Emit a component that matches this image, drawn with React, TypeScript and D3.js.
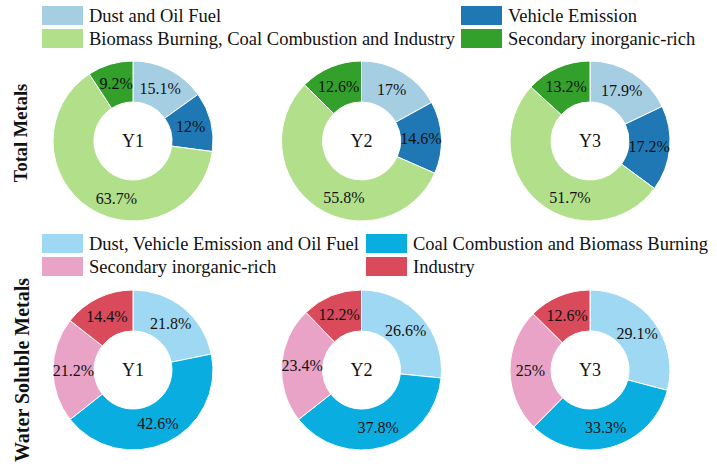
import React from "react";
import * as d3 from "d3";

const years = ["Y1", "Y2", "Y3"];

const totalSources = [
  "Dust and Oil Fuel",
  "Vehicle Emission",
  "Biomass Burning, Coal Combustion and Industry",
  "Secondary inorganic-rich",
];
const totalColors = ["#a6cee3", "#1f78b4", "#b2df8a", "#33a02c"];
const totalShares = [
  [15.1, 12, 63.7, 9.2],
  [17, 14.6, 55.8, 12.6],
  [17.9, 17.2, 51.7, 13.2],
];

const solubleSources = [
  "Dust, Vehicle Emission and Oil Fuel",
  "Coal Combustion and Biomass Burning",
  "Secondary inorganic-rich",
  "Industry",
];
const solubleColors = ["#9fd8f2", "#0aade0", "#e8a3c6", "#d94a5b"];
const solubleShares = [
  [21.8, 42.6, 21.2, 14.4],
  [26.6, 37.8, 23.4, 12.2],
  [29.1, 33.3, 25, 12.6],
];

const W = 717;
const H = 467;
const FONT = "'Liberation Serif', 'Times New Roman', serif";

const outerR = 80;
const innerR = 39;

const cx = d3.scalePoint<string>().domain(years).range([133, 590]);

const pie = d3
  .pie<number>()
  .sort(null)
  .value((d) => d);

const arc = d3.arc<d3.PieArcDatum<number>>().innerRadius(innerR).outerRadius(outerR);

// label point: centroid, but slices over half the ring pull their label toward the bottom
const labelPos = (a: d3.PieArcDatum<number>) => {
  let mid = (a.startAngle + a.endAngle) / 2;
  if (a.endAngle - a.startAngle > Math.PI) mid = (mid + Math.PI) / 2;
  const r = (innerR + outerR) / 2;
  return [Math.sin(mid) * r, -Math.cos(mid) * r];
};

const Donut = ({ values, colors, x, y, title }) => {
  const arcs = pie(values);
  return (
    <g transform={`translate(${x},${y})`}>
      {arcs.map((a, i) => (
        <path key={i} d={arc(a) || ""} fill={colors[i]} stroke="#fff" strokeWidth={1} />
      ))}
      {arcs.map((a, i) => {
        const [lx, ly] = labelPos(a);
        return (
          <text
            key={"l" + i}
            x={lx}
            y={ly}
            textAnchor="middle"
            dominantBaseline="central"
            fontSize={16}
            fill="#111"
          >
            {`${a.data}%`}
          </text>
        );
      })}
      <text textAnchor="middle" dominantBaseline="central" fontSize={18} fill="#111">
        {title}
      </text>
    </g>
  );
};

// two columns, filled row by row
const Legend = ({ names, colors, y, col2 }) => (
  <g>
    {names.map((n, i) => {
      const lx = i % 2 === 0 ? 42 : col2;
      const ly = y + Math.floor(i / 2) * 23;
      return (
        <g key={n} transform={`translate(${lx},${ly})`}>
          <rect width={41} height={19} fill={colors[i]} />
          <text x={47} y={9.5} dominantBaseline="central" fontSize={18.5} fill="#111">
            {n}
          </text>
        </g>
      );
    })}
  </g>
);

export default function App() {
  return (
    <svg
      width={W}
      height={H}
      style={{ position: "absolute", left: 0, top: 0, background: "#fff" }}
      fontFamily={FONT}
    >
      <Legend names={totalSources} colors={totalColors} y={6} col2={461} />
      <Legend names={solubleSources} colors={solubleColors} y={234} col2={366} />
      {years.map((yr, i) => (
        <Donut
          key={"t" + yr}
          values={totalShares[i]}
          colors={totalColors}
          x={cx(yr)}
          y={141}
          title={yr}
        />
      ))}
      {years.map((yr, i) => (
        <Donut
          key={"s" + yr}
          values={solubleShares[i]}
          colors={solubleColors}
          x={cx(yr)}
          y={370}
          title={yr}
        />
      ))}
      <text
        transform="translate(21,133) rotate(-90)"
        textAnchor="middle"
        dominantBaseline="central"
        fontSize={18.5}
        fontWeight="bold"
        fill="#111"
      >
        Total Metals
      </text>
      <text
        transform="translate(22,370) rotate(-90)"
        textAnchor="middle"
        dominantBaseline="central"
        fontSize={20}
        fontWeight="bold"
        fill="#111"
      >
        Water Soluble Metals
      </text>
    </svg>
  );
}
